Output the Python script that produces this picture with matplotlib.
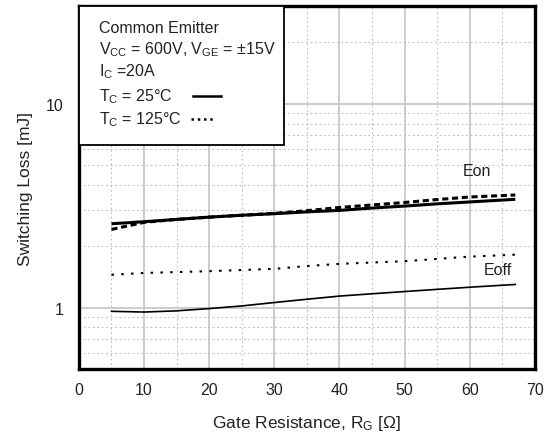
import matplotlib
matplotlib.use('Agg')
import matplotlib.pyplot as plt
from matplotlib.patches import Rectangle
from matplotlib.lines import Line2D
from matplotlib.ticker import FixedLocator, FixedFormatter, NullFormatter

plt.rcParams['font.family'] = ['Liberation Sans', 'DejaVu Sans']
plt.rcParams['mathtext.fontset'] = 'custom'
plt.rcParams['mathtext.rm'] = 'Liberation Sans'
plt.rcParams['mathtext.it'] = 'Liberation Sans:italic'

# gate resistance [ohm]
rg = [5, 10, 15, 20, 25, 30, 35, 40, 45, 50, 55, 60, 67]

# switching loss [mJ]
eon_25 = [2.58, 2.64, 2.71, 2.78, 2.84, 2.89, 2.95, 3.00, 3.08, 3.15, 3.23, 3.30, 3.40]
eon_125 = [2.42, 2.62, 2.71, 2.78, 2.84, 2.90, 2.99, 3.10, 3.19, 3.28, 3.39, 3.49, 3.57]
eoff_25 = [0.96, 0.952, 0.965, 0.99, 1.02, 1.06, 1.10, 1.14, 1.17, 1.20, 1.23, 1.26, 1.30]
eoff_125 = [1.45, 1.48, 1.495, 1.51, 1.53, 1.55, 1.60, 1.64, 1.665, 1.69, 1.735, 1.78, 1.82]

x_ticks = [0, 10, 20, 30, 40, 50, 60, 70]

fig = plt.figure(figsize=(5.48, 4.39), dpi=100)
ax = fig.add_axes([0.144, 0.157, 0.832, 0.826])

ax.set_yscale('log')
ax.set_xlim(0, 70)
ax.set_ylim(0.5, 30)

ax.xaxis.set_major_locator(FixedLocator(x_ticks))
ax.xaxis.set_minor_locator(FixedLocator([5, 15, 25, 35, 45, 55, 65]))
ax.yaxis.set_major_locator(FixedLocator([1, 10]))
ax.yaxis.set_minor_locator(FixedLocator([0.6, 0.7, 0.8, 0.9, 2, 3, 4, 5, 6, 7, 8, 9, 20]))
ax.yaxis.set_major_formatter(FixedFormatter(['1', '10']))
ax.yaxis.set_minor_formatter(NullFormatter())

ax.grid(which='major', color='#c8c8c8', linestyle='-', linewidth=1.3)
ax.grid(which='minor', color='#bcbcbc', linestyle=(0, (1.5, 2.5)), linewidth=0.8)
ax.set_axisbelow(True)
ax.tick_params(which='both', length=0, labelsize=11.5, colors='#222222')
ax.tick_params(axis='y', pad=11)
ax.tick_params(axis='x', pad=9)

for s in ax.spines.values():
    s.set_linewidth(2.4)
    s.set_color('black')

ax.plot(rg, eon_25, color='black', linewidth=2.2, solid_capstyle='butt')
ax.plot(rg, eon_125, color='black', linewidth=2.2, linestyle=(0, (2.0, 1.2)))
ax.plot(rg, eoff_25, color='black', linewidth=1.2)
ax.plot(rg, eoff_125, color='black', linewidth=1.5, linestyle=(0, (1.2, 3.5)))

ax.text(59.0, 4.7, 'Eon', fontsize=11.5, va='center', color='#222222')
ax.text(62.2, 1.54, 'Eoff', fontsize=11.5, va='center', color='#222222')

ax.set_xlabel('Gate Resistance, R$_{\\mathrm{G}}$ [\u03a9]', fontsize=12.5, labelpad=12,
              color='#222222')
ax.set_ylabel('Switching Loss [mJ]', fontsize=12.5, labelpad=9, color='#222222')

# condition box
ax.add_patch(Rectangle((0, 0.618), 0.45, 0.382, transform=ax.transAxes,
                       facecolor='white', edgecolor='black', linewidth=1.3, zorder=3))
lines = ['Common Emitter',
         'V$_{\\mathrm{CC}}$ = 600V, V$_{\\mathrm{GE}}$ = \u00b115V',
         'I$_{\\mathrm{C}}$ =20A',
         'T$_{\\mathrm{C}}$ = 25\u00b0C',
         'T$_{\\mathrm{C}}$ = 125\u00b0C']
ys = [0.941, 0.883, 0.822, 0.753, 0.690]
for t, y in zip(lines, ys):
    ax.text(0.044, y, t, transform=ax.transAxes, fontsize=11.5, va='center',
            color='#222222', zorder=4)
ax.add_line(Line2D([0.25, 0.311], [0.753, 0.753], transform=ax.transAxes,
                   color='black', linewidth=1.8, zorder=4))
ax.add_line(Line2D([0.245, 0.298], [0.690, 0.690], transform=ax.transAxes,
                   color='black', linewidth=1.8, linestyle=(0, (1, 1.5)), zorder=4))

fig.savefig('out.png', dpi=100)
